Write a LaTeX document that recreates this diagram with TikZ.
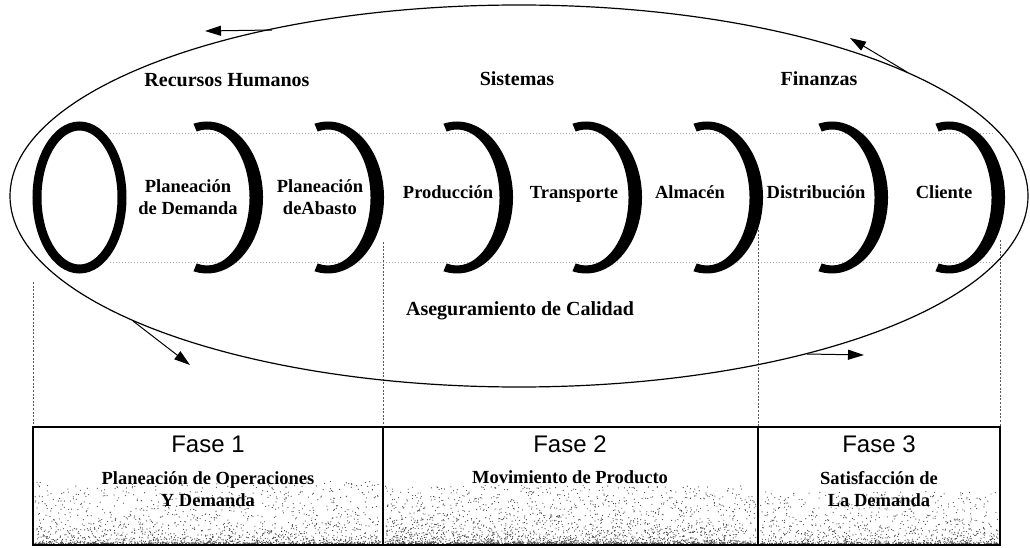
\documentclass[tikz,border=0pt]{standalone}
\usepackage{fontspec}
\setmainfont{Liberation Serif}
\newfontfamily\phasefont{Liberation Sans}
\usetikzlibrary{arrows.meta,calc}

% thick crescent: right half of a ring, centred at (#1,197.5)
\newcommand\crescent[1]{%
  \fill ($(#1,197.5)+(104:56 and 76)$)
    arc[start angle=104,end angle=-104,x radius=56,y radius=76]
    -- ($(#1,197.5)+(-104:42.5 and 68)$)
    arc[start angle=-104,end angle=104,x radius=42.5,y radius=68] -- cycle;}

% speckled grain along the bottom of a phase box
\newcommand\grain[4]{%
  \foreach \k in {1,...,#1}{%
    \pgfmathsetmacro\gx{#2+rnd*(#3-#2)}%
    \pgfmathsetmacro\gr{rnd}%
    \pgfmathsetmacro\gy{543.5-#4*\gr*\gr*\gr}%
    \fill[black!72] (\gx,\gy) circle[radius=0.6];
  }}

\begin{document}
\begin{tikzpicture}[x=1pt,y=-1pt,
  lbl/.style={font=\bfseries\fontsize{18.5}{22}\selectfont, align=center, inner sep=0pt},
  biglbl/.style={font=\bfseries\fontsize{20}{24}\selectfont, inner sep=0pt, anchor=base},
  guide/.style={draw=gray!70, line width=0.6pt, dash pattern=on 1.2pt off 1.8pt},
  phaseline/.style={draw=black!65, line width=0.6pt, dash pattern=on 2pt off 1.6pt},
  loopline/.style={line width=1.2pt},
  flow/.style={line width=1pt, -{Triangle[length=16pt,width=10pt]}},
  phasebox/.style={draw, line width=1.4pt, inner sep=0pt, minimum height=118},
  fasetitle/.style={font=\phasefont\fontsize{24}{28}\selectfont, inner sep=0pt, anchor=base},
  fasetext/.style={font=\bfseries\fontsize{18.5}{22}\selectfont, align=center, inner sep=0pt},
]
\useasboundingbox (0,0) rectangle (1030,548);
\fill[white] (0,0) rectangle (1030,548);

% outline of the tube
\draw[guide] (110,133) -- (995,133);
\draw[guide] (110,262) -- (995,262);

% phase separators
\draw[phaseline] (33,282) -- (33,427);
\draw[phaseline] (383,242) -- (383,427);
\draw[phaseline] (758,230) -- (758,427);
\draw[phaseline] (1000,240) -- (1000,427);

% entry ring and stage crescents
\draw[line width=9pt] (79.5,197.5) ellipse[x radius=42.5, y radius=71.5];
\crescent{207}
\crescent{328}
\crescent{457}
\crescent{586}
\crescent{707}
\crescent{832}
\crescent{949}

% surrounding support cycle
\draw[loopline] (519,196) ellipse[x radius=509, y radius=191];
\coordinate (a1s) at (272,30);  \coordinate (a1e) at (205,31);
\coordinate (a2s) at (907,72);  \coordinate (a2e) at (850,38);
\coordinate (a3s) at (133,321); \coordinate (a3e) at (190,365);
\coordinate (a4s) at (807,354); \coordinate (a4e) at (864,355);
\draw[flow] (a1s) -- (a1e);
\draw[flow] (a2s) -- (a2e);
\draw[flow] (a3s) -- (a3e);
\draw[flow] (a4s) -- (a4e);

% support areas
\node[biglbl] (hr)  at (227,87)  {Recursos Humanos};
\node[biglbl] (sys) at (517,86)  {Sistemas};
\node[biglbl] (fin) at (819,86)  {Finanzas};
\node[biglbl] (qa)  at (520,315) {Aseguramiento de Calidad};

% stages
\node[lbl] (pd)   at (188,197) {Planeación\\de Demanda};
\node[lbl] (pa)   at (320,197) {Planeación\\deAbasto};
\node[lbl,anchor=base] (prod) at (448,199) {Producción};
\node[lbl,anchor=base] (tr)   at (574,199) {Transporte};
\node[lbl,anchor=base] (alm)  at (690,199) {Almacén};
\node[lbl,anchor=base] (dis)  at (816,199) {Distribución};
\node[lbl,anchor=base] (cli)  at (944,199) {Cliente};

% phases
\pgfmathsetseed{11}
\grain{1700}{35}{381}{62}
\grain{2400}{385}{756}{58}
\grain{1050}{760}{998}{52}
\node[phasebox, minimum width=350] (f1) at (208,486)   {};
\node[phasebox, minimum width=375] (f2) at (570.5,486) {};
\node[phasebox, minimum width=242] (f3) at (879,486)   {};

\node[fasetitle] (f1t) at (208,452) {Fase 1};
\node[fasetitle] (f2t) at (570,452) {Fase 2};
\node[fasetitle] (f3t) at (879,452) {Fase 3};
\node[fasetext] (f1d) at (208,489) {Planeación de Operaciones\\Y Demanda};
\node[fasetext,anchor=base] (f2d) at (570,483) {Movimiento de Producto};
\node[fasetext] (f3d) at (879,489) {Satisfacción de\\La Demanda};
\end{tikzpicture}
\end{document}
